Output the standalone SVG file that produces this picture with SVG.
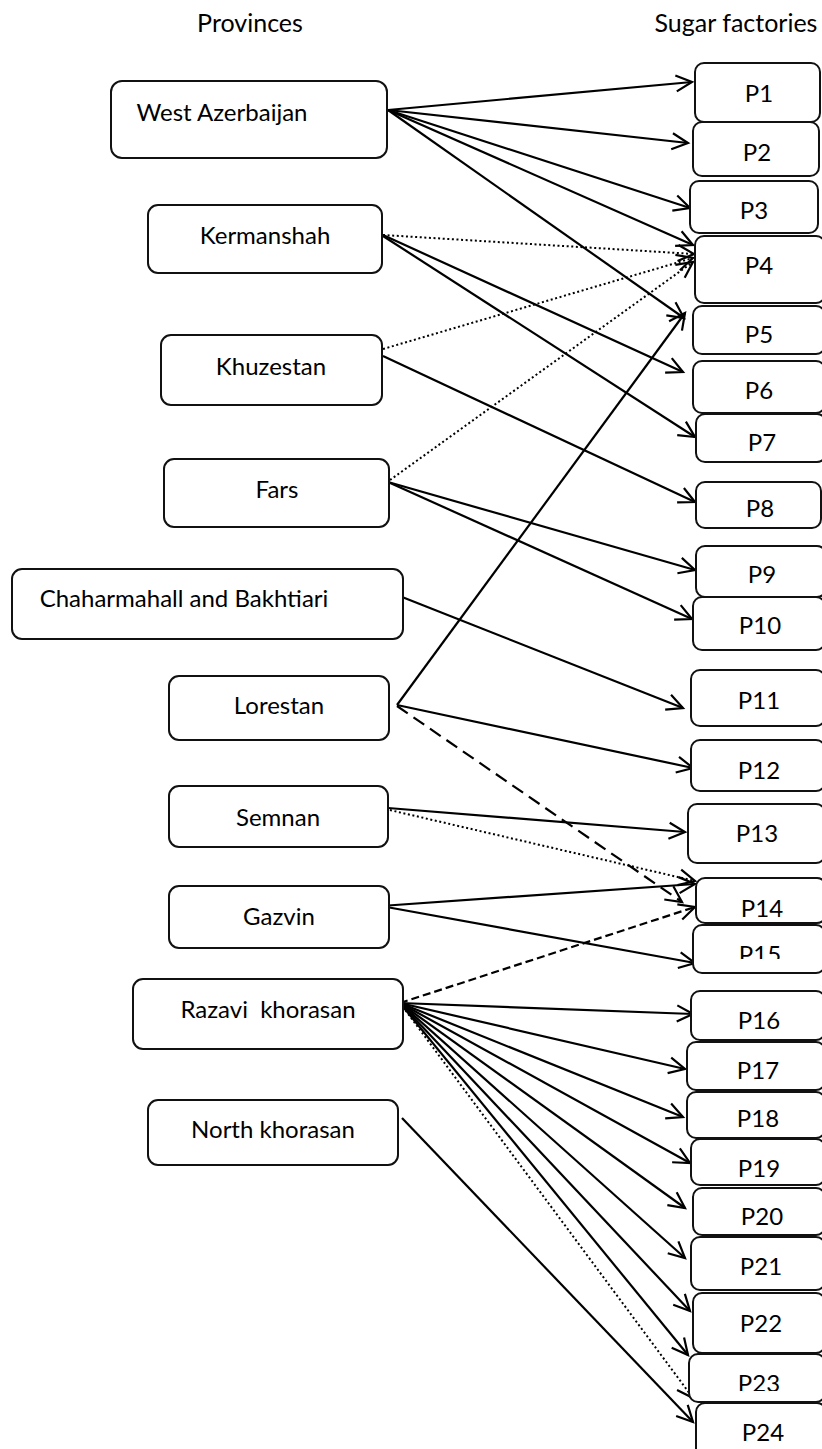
<svg xmlns="http://www.w3.org/2000/svg" width="822" height="1449" viewBox="0 0 822 1449">
<style>
  .box { fill: #fff; stroke: #111; stroke-width: 2; }
  .lbl { font-family: Lato, "Liberation Sans", sans-serif; font-size: 24px; fill: #000; text-anchor: middle; white-space: pre; }
  .hdr { font-family: Lato, "Liberation Sans", sans-serif; font-size: 25px; fill: #000; text-anchor: middle; }
  .c { fill: none; stroke: #000; stroke-width: 2.2; marker-end: url(#arr); }
  .dot { stroke-dasharray: 2 2.6; stroke-width: 2; }
  .dashL { stroke-dasharray: 13 7; }
  .dashS { stroke-dasharray: 8 4; }
</style>
<defs>
  <marker id="arr" markerUnits="userSpaceOnUse" viewBox="-18 -10 20 20" markerWidth="20" markerHeight="20" refX="0" refY="0" orient="auto" overflow="visible">
    <path d="M-16,-8 L0,0 L-16,8" fill="none" stroke="#000" stroke-width="2.2" stroke-dasharray="none"/>
  </marker>
  <clipPath id="clipP15"><rect x="690" y="925" width="132" height="34"/></clipPath>
  <clipPath id="clipP23"><rect x="689" y="1354" width="136" height="37"/></clipPath>
</defs>

<g id="headers">
  <text class="hdr" x="250" y="32">Provinces</text>
  <text class="hdr" x="736" y="32">Sugar factories</text>
</g>

<g id="connectors">
  <!-- West Azerbaijan -->
  <line class="c" x1="388" y1="110" x2="692" y2="82"/>
  <line class="c" x1="388" y1="110" x2="688" y2="143"/>
  <line class="c" x1="388" y1="110" x2="690" y2="208"/>
  <line class="c" x1="388" y1="110" x2="693" y2="245"/>
  <line class="c" x1="388" y1="110" x2="684" y2="318"/>
  <!-- Kermanshah -->
  <line class="c dot" x1="383" y1="235" x2="694" y2="254"/>
  <line class="c" x1="383" y1="235" x2="683" y2="372"/>
  <line class="c" x1="383" y1="236" x2="695" y2="437"/>
  <!-- Khuzestan -->
  <line class="c dot" x1="383" y1="349" x2="693" y2="258"/>
  <line class="c" x1="383" y1="356" x2="695" y2="502"/>
  <!-- Fars -->
  <line class="c dot" x1="390" y1="480" x2="693" y2="262"/>
  <line class="c" x1="388" y1="482" x2="695" y2="570"/>
  <line class="c" x1="388" y1="482" x2="692" y2="619"/>
  <!-- Chaharmahall and Bakhtiari -->
  <line class="c" x1="397" y1="595" x2="683" y2="708"/>
  <!-- Lorestan -->
  <line class="c" x1="397" y1="705" x2="685" y2="313"/>
  <line class="c" x1="397" y1="705" x2="693" y2="768"/>
  <line class="c dashL" x1="397" y1="706" x2="682" y2="902"/>
  <!-- Semnan -->
  <line class="c" x1="388" y1="808" x2="685" y2="832"/>
  <line class="c dot" x1="381" y1="808" x2="695" y2="881"/>
  <!-- Gazvin -->
  <line class="c" x1="381" y1="906" x2="695" y2="884"/>
  <line class="c" x1="381" y1="906" x2="695" y2="963"/>
  <!-- Razavi khorasan -->
  <line class="c dashS" x1="400" y1="1003" x2="695" y2="907"/>
  <line class="c" x1="400" y1="1003" x2="693" y2="1014"/>
  <line class="c" x1="400" y1="1003" x2="685" y2="1069"/>
  <line class="c" x1="400" y1="1003" x2="683" y2="1117"/>
  <line class="c" x1="400" y1="1003" x2="690" y2="1163"/>
  <line class="c" x1="400" y1="1003" x2="685" y2="1208"/>
  <line class="c" x1="400" y1="1003" x2="685" y2="1258"/>
  <line class="c" x1="400" y1="1003" x2="690" y2="1311"/>
  <line class="c" x1="400" y1="1003" x2="688" y2="1355"/>
  <line class="c dot" x1="400" y1="1003" x2="693" y2="1398"/>
  <!-- North khorasan -->
  <line class="c" x1="402" y1="1118" x2="693" y2="1422"/>
</g>

<g id="westAzerbaijan"><rect class="box" x="111" y="81" width="276" height="77" rx="11"/><text class="lbl" x="222" y="121">West Azerbaijan</text></g>
<g id="kermanshah"><rect class="box" x="148" y="205" width="234" height="68" rx="10"/><text class="lbl" x="265" y="244">Kermanshah</text></g>
<g id="khuzestan"><rect class="box" x="161" y="335" width="221" height="70" rx="10"/><text class="lbl" x="271" y="375">Khuzestan</text></g>
<g id="fars"><rect class="box" x="164" y="459" width="225" height="68" rx="10"/><text class="lbl" x="277" y="498">Fars</text></g>
<g id="chaharmahall"><rect class="box" x="12" y="569" width="391" height="70" rx="10"/><text class="lbl" x="184" y="607">Chaharmahall and Bakhtiari</text></g>
<g id="lorestan"><rect class="box" x="169" y="676" width="220" height="64" rx="10"/><text class="lbl" x="279" y="714">Lorestan</text></g>
<g id="semnan"><rect class="box" x="169" y="786" width="219" height="61" rx="10"/><text class="lbl" x="278" y="826">Semnan</text></g>
<g id="gazvin"><rect class="box" x="169" y="886" width="220" height="62" rx="10"/><text class="lbl" x="279" y="925">Gazvin</text></g>
<g id="razaviKhorasan"><rect class="box" x="133" y="979" width="270" height="70" rx="10"/><text class="lbl" x="268" y="1018">Razavi  khorasan</text></g>
<g id="northKhorasan"><rect class="box" x="148" y="1100" width="250" height="65" rx="10"/><text class="lbl" x="273" y="1138">North khorasan</text></g>

<g id="P1"><rect class="box" x="695" y="63" width="125" height="59" rx="9"/><text class="lbl" x="759" y="102">P1</text></g>
<g id="P2"><rect class="box" x="693" y="122" width="126" height="54" rx="9"/><text class="lbl" x="757" y="161">P2</text></g>
<g id="P3"><rect class="box" x="690" y="181" width="128" height="52" rx="9"/><text class="lbl" x="754" y="219">P3</text></g>
<g id="P4"><rect class="box" x="695" y="236" width="130" height="67" rx="9"/><text class="lbl" x="759" y="274">P4</text></g>
<g id="P5"><rect class="box" x="693" y="306" width="132" height="48" rx="9"/><text class="lbl" x="759" y="343">P5</text></g>
<g id="P6"><rect class="box" x="693" y="361" width="132" height="52" rx="9"/><text class="lbl" x="759" y="399">P6</text></g>
<g id="P7"><rect class="box" x="696" y="414" width="130" height="48" rx="9"/><text class="lbl" x="762" y="451">P7</text></g>
<g id="P8"><rect class="box" x="696" y="482" width="125" height="46" rx="9"/><text class="lbl" x="760" y="517">P8</text></g>
<g id="P9"><rect class="box" x="696" y="546" width="130" height="51" rx="9"/><text class="lbl" x="762" y="583">P9</text></g>
<g id="P10"><rect class="box" x="693" y="597" width="132" height="53" rx="9"/><text class="lbl" x="760" y="634">P10</text></g>
<g id="P11"><rect class="box" x="691" y="670" width="134" height="56" rx="9"/><text class="lbl" x="759" y="709">P11</text></g>
<g id="P12"><rect class="box" x="691" y="740" width="134" height="51" rx="9"/><text class="lbl" x="759" y="779">P12</text></g>
<g id="P13"><rect class="box" x="688" y="804" width="137" height="59" rx="9"/><text class="lbl" x="757" y="842">P13</text></g>
<g id="P14"><rect class="box" x="696" y="878" width="130" height="45" rx="9"/><text class="lbl" x="762" y="917">P14</text></g>
<g id="P15"><rect class="box" x="693" y="925" width="132" height="48" rx="9"/><text class="lbl" x="760" y="963" clip-path="url(#clipP15)">P15</text></g>
<g id="P16"><rect class="box" x="691" y="991" width="134" height="49" rx="9"/><text class="lbl" x="759" y="1029">P16</text></g>
<g id="P17"><rect class="box" x="687" y="1042" width="138" height="48" rx="9"/><text class="lbl" x="758" y="1079">P17</text></g>
<g id="P18"><rect class="box" x="687" y="1092" width="138" height="46" rx="9"/><text class="lbl" x="758" y="1127">P18</text></g>
<g id="P19"><rect class="box" x="691" y="1139" width="134" height="46" rx="9"/><text class="lbl" x="759" y="1177">P19</text></g>
<g id="P20"><rect class="box" x="693" y="1188" width="132" height="47" rx="9"/><text class="lbl" x="762" y="1225">P20</text></g>
<g id="P21"><rect class="box" x="691" y="1237" width="134" height="53" rx="9"/><text class="lbl" x="761" y="1275">P21</text></g>
<g id="P22"><rect class="box" x="693" y="1293" width="132" height="60" rx="9"/><text class="lbl" x="761" y="1332">P22</text></g>
<g id="P23"><rect class="box" x="689" y="1354" width="136" height="48" rx="9"/><text class="lbl" x="759" y="1392" clip-path="url(#clipP23)">P23</text></g>
<g id="P24"><rect class="box" x="696" y="1403" width="130" height="60" rx="9"/><text class="lbl" x="763" y="1441">P24</text></g>
</svg>
